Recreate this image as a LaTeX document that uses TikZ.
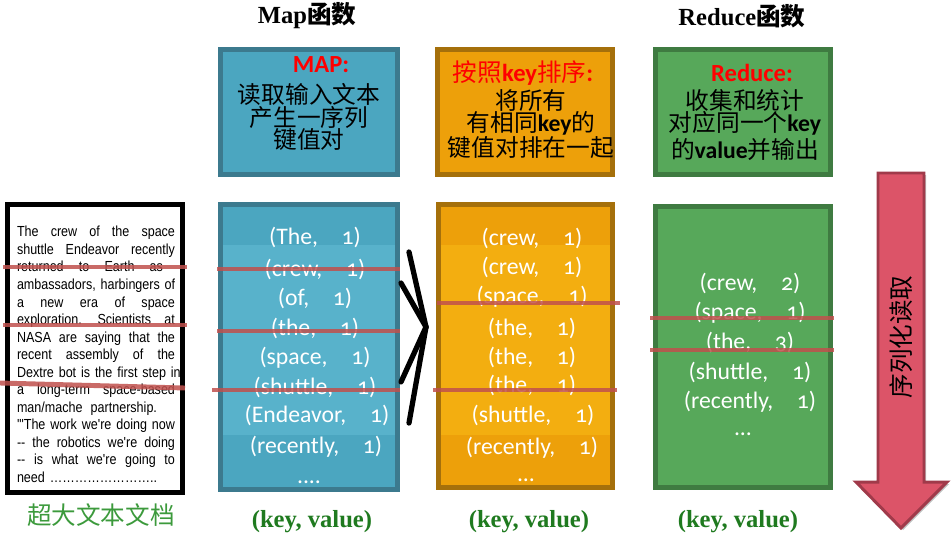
\documentclass[tikz,border=0pt]{standalone}
\usepackage{fontspec}
\setmainfont{Liberation Serif}
\newfontfamily\cjk{Noto Sans CJK SC}
\newfontfamily\calfont{Carlito}[Numbers=OldStyle]
\newfontfamily\arialfont{Liberation Sans}[FakeStretch=0.86]
\definecolor{blueF}{HTML}{4BA6C0}
\definecolor{blueM}{HTML}{58B2CB}
\definecolor{blueD}{HTML}{3C7A8E}
\definecolor{orgF}{HTML}{EDA00A}
\definecolor{orgM}{HTML}{F3AE10}
\definecolor{orgD}{HTML}{A5700B}
\definecolor{grnF}{HTML}{57A85A}
\definecolor{grnD}{HTML}{3F7B41}
\definecolor{redl}{HTML}{C0504D}
\definecolor{lblgreen}{HTML}{1F7A1F}
\definecolor{docgreen}{HTML}{3C9A3C}
\definecolor{arrF}{HTML}{DC5468}
\definecolor{arrD}{HTML}{A03A4A}
\newcommand\docline[2][3.16cm]{\leavevmode\hbox to #1{#2}}
\newcommand\jj{\space\hfill}
\newcommand\kwd[1]{{\calfont\bfseries #1}}
\newcommand\tightcjk{\cjk\fontsize{13.5}{12.6}\selectfont\lineskiplimit=-30pt\relax}
\begin{document}
\begin{tikzpicture}[x=0.02cm,y=-0.02cm,
  panel/.style={inner sep=0pt, outer sep=0pt, line width=2.8pt},
  redline/.style={draw=redl, line width=2.8pt, opacity=0.85},
  entry/.style={text=white, inner sep=0pt, font=\calfont\fontsize{13.5}{14}\selectfont},
  title/.style={inner sep=0pt, text=red, font=\calfont\bfseries\fontsize{14}{14}\selectfont},
  body/.style={inner sep=0pt, align=center, font=\tightcjk},
  header/.style={inner sep=0pt, font=\bfseries\fontsize{14}{14}\selectfont},
  kvlabel/.style={inner sep=0pt, text=lblgreen, font=\bfseries\fontsize{14}{14}\selectfont},
  bracket/.style={line width=3pt, line cap=round}]
\useasboundingbox (0,0) rectangle (951,535);

% headers
\node[header] (hmap) at (307,16) {Map{\cjk\bfseries 函数}};
\node[header] (hred) at (742,16) {Reduce{\cjk\bfseries 函数}};

% top boxes
\node[panel, draw=blueD, fill=blueF, minimum width=3.54cm, minimum height=2.5cm] (tmap) at (309,112) {};
\node[panel, draw=orgD, fill=orgF, minimum width=3.5cm, minimum height=2.5cm] (tsort) at (525,112) {};
\node[panel, draw=grnD, fill=grnF, minimum width=3.5cm, minimum height=2.5cm] (tred) at (743,112) {};

\node[title] (tmapt) at (321,65) {MAP:};
\node[body] (tmapb) at (309,117) {读取输入文本\\产生一序列\\键值对};
\node[title] (tsortt) at (523,73) {{\cjk\mdseries 按照}key{\cjk\mdseries 排序}:};
\node[body] (tsortb) at (531,124) {将所有\\有相同\kwd{key}的\\[1.5pt]键值对排在一起};
\node[title] (tredt) at (752,73) {Reduce:};
\node[body] (tredb) at (745,125) {收集和统计\\对应同一个\kwd{key}\\[2.5pt]的\kwd{value}并输出};

% bottom boxes
\node[panel, draw=blueD, fill=blueF, minimum width=3.54cm, minimum height=5.7cm] (bmap) at (309,347) {};
\fill[blueM] (223,245) rectangle (395,435);
\node[panel, draw=orgD, fill=orgF, minimum width=3.48cm, minimum height=5.66cm] (bsort) at (525.5,346) {};
\fill[orgM] (441,245) rectangle (610,435);
\node[panel, draw=grnD, fill=grnF, minimum width=3.5cm, minimum height=5.62cm] (bred) at (743,347) {};

% document box
\node[panel, draw=black, fill=white, minimum width=3.5cm, minimum height=5.76cm] (doc) at (95,348.5) {};
\node[anchor=north, inner sep=0pt, text width=3.16cm, align=left,
      font=\arialfont\fontsize{8.3}{9.98}\selectfont] (doctext) at (96,226) {%
\docline{The\jj crew\jj of\jj the\jj space}\\
\docline{shuttle\jj Endeavor\jj recently}\\
\docline[2.92cm]{returned\jj to\jj Earth\jj as}\\
\docline{ambassadors,\jj harbingers\jj of}\\
\docline{a\jj new\jj era\jj of\jj space}\\
\docline{exploration.\jj Scientists\jj at}\\
\docline{NASA\jj are\jj saying\jj that\jj the}\\
\docline{recent\jj assembly\jj of\jj the}\\
\docline{Dextre\jj bot\jj is\jj the\jj first\jj step\jj in}\\
\docline{a\jj long-term\jj space-based}\\
\docline[2.8cm]{man/mache\jj partnership.}\\
\docline{'"The\jj work\jj we're\jj doing\jj now}\\
\docline{-{}-\jj the\jj robotics\jj we're\jj doing}\\
\docline{-{}-\jj is\jj what\jj we're\jj going\jj to}\\
\docline{need ……………………..\hfill}};
\node[inner sep=0pt, text=docgreen, font=\cjk\fontsize{14}{14}\selectfont] (doclabel) at (101,515) {超大文本文档};

% map entries
\node[entry] (m1) at (315,237) {(The,\hspace{1em}1)};
\node[entry] (m2) at (315,269) {(crew,\hspace{1em}1)};
\node[entry] (m3) at (315,298) {(of,\hspace{1em}1)};
\node[entry] (m4) at (315,328) {(the,\hspace{1em}1)};
\node[entry] (m5) at (315,358) {(space,\hspace{1em}1)};
\node[entry] (m6) at (315,387) {(shuttle,\hspace{1em}1)};
\node[entry] (m7) at (317,415) {(Endeavor,\hspace{1em}1)};
\node[entry] (m8) at (316,447) {(recently,\hspace{1em}1)};
\node[entry, anchor=base] (m9) at (309,483) {....};

% sorted entries
\node[entry] (s1) at (532,238) {(crew,\hspace{1em}1)};
\node[entry] (s2) at (532,267) {(crew,\hspace{1em}1)};
\node[entry] (s3) at (532,297) {(space,\hspace{1em}1)};
\node[entry] (s4) at (532,328) {(the,\hspace{1em}1)};
\node[entry] (s5) at (532,357) {(the,\hspace{1em}1)};
\node[entry] (s6) at (532,385) {(the,\hspace{1em}1)};
\node[entry] (s7) at (533,415) {(shuttle,\hspace{1em}1)};
\node[entry] (s8) at (532,448) {(recently,\hspace{1em}1)};
\node[entry, anchor=base] (s9) at (526,481) {...};

% reduced entries
\node[entry] (r1) at (750,283) {(crew,\hspace{1em}2)};
\node[entry] (r2) at (750,313) {(space,\hspace{1em}1)};
\node[entry] (r3) at (750,342) {(the,\hspace{1em}3)};
\node[entry] (r4) at (750,372) {(shuttle,\hspace{1em}1)};
\node[entry] (r5) at (750,402) {(recently,\hspace{1em}1)};
\node[entry, anchor=base] (r6) at (743,435) {...};

% red split lines
\draw[redline] (3,267) -- (187,267);
\draw[redline] (3,325) -- (187,325);
\draw[redline] (0,383) -- (185,388);
\draw[redline] (217,269) -- (400,269);
\draw[redline] (217,331) -- (400,331);
\draw[redline] (212,390) -- (400,390);
\draw[redline] (437,303) -- (620,303);
\draw[redline] (433,390) -- (617,390);
\draw[redline] (650,318) -- (834,318);
\draw[redline] (650,350) -- (834,350);

% bracket
\coordinate (apex) at (426,327);
\coordinate (b1) at (409,252);
\coordinate (b2) at (401,283);
\coordinate (b3) at (401,382);
\coordinate (b4) at (409,423);
\draw[bracket] (b1) -- (apex);
\draw[bracket] (b2) -- (apex);
\draw[bracket] (b3) -- (apex);
\draw[bracket] (b4) -- (apex);

% serialize arrow
\fill[black, opacity=0.25] (880,175) -- (926,175) -- (926,484) -- (949,484) -- (903,530) -- (858,484) -- (880,484) -- cycle;
\draw[fill=arrF, draw=arrD, line width=1.7pt, line join=miter]
  (878,173) -- (924,173) -- (924,482) -- (947,482) -- (901,528) -- (856,482) -- (878,482) -- cycle;
\node[rotate=90, inner sep=0pt, font=\cjk\fontsize{14}{14}\selectfont] (arrlabel) at (901,337) {序列化读取};

% key-value labels
\node[kvlabel] (kv1) at (312,522) {(key, value)};
\node[kvlabel] (kv2) at (529,522) {(key, value)};
\node[kvlabel] (kv3) at (738,522) {(key, value)};
\end{tikzpicture}
\end{document}
